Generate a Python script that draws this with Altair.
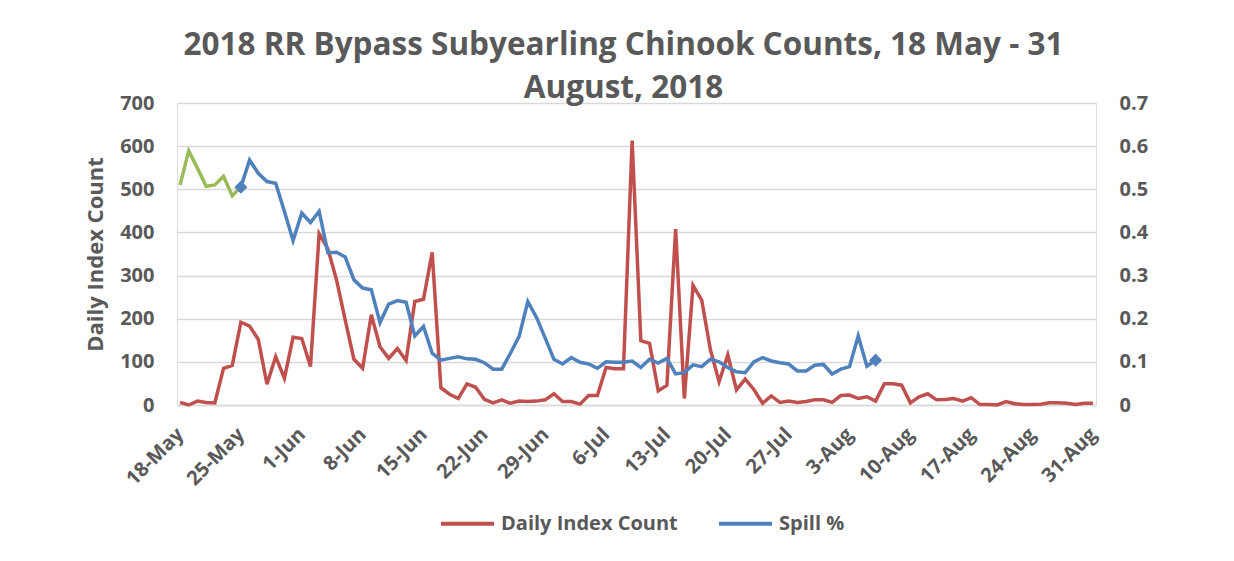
import altair as alt
import pandas as pd

# ---- data ----
tick_labels = ["18-May", "25-May", "1-Jun", "8-Jun", "15-Jun", "22-Jun", "29-Jun",
               "6-Jul", "13-Jul", "20-Jul", "27-Jul", "3-Aug", "10-Aug", "17-Aug",
               "24-Aug", "31-Aug"]

# Daily Index Count, one value per day from 18 May (day 0) to 31 Aug (day 105)
daily_count = [6, 0, 9, 6, 5, 85, 92, 192, 183, 152, 48, 112, 62, 157, 154, 89,
               397, 362, 290, 197, 106, 85, 209, 135, 108, 131, 103, 240, 245, 354,
               40, 25, 15, 49, 41, 13, 5, 12, 4, 9, 8, 9, 12, 26, 8, 8, 2, 22, 22,
               87, 84, 84, 613, 149, 143, 33, 46, 408, 15, 277, 243, 128, 54, 116,
               35, 60, 36, 4, 21, 6, 9, 6, 8, 12, 12, 6, 22, 23, 15, 19, 9, 49, 49,
               46, 5, 19, 26, 12, 13, 15, 9, 17, 1, 1, 0, 8, 3, 1, 1, 2, 5, 5, 4,
               1, 4, 4]

# Spill % (first part drawn in green, days 0-7)
spill_green = [0.51, 0.589, 0.549, 0.507, 0.51, 0.53, 0.485, 0.505]
# Spill % drawn in blue, days 7-80
blue_start_day = 7
spill_blue = [0.505, 0.568, 0.537, 0.518, 0.514, 0.449, 0.381, 0.445, 0.423, 0.449,
              0.353, 0.354, 0.343, 0.29, 0.271, 0.267, 0.191, 0.234, 0.242, 0.238,
              0.16, 0.182, 0.12, 0.104, 0.108, 0.112, 0.107, 0.106, 0.098, 0.083,
              0.083, 0.12, 0.159, 0.24, 0.203, 0.155, 0.106, 0.095, 0.11, 0.099,
              0.095, 0.085, 0.1, 0.099, 0.099, 0.102, 0.087, 0.106, 0.097, 0.108,
              0.072, 0.075, 0.093, 0.089, 0.106, 0.1, 0.087, 0.077, 0.075, 0.1,
              0.11, 0.102, 0.098, 0.095, 0.079, 0.079, 0.092, 0.094, 0.072, 0.083,
              0.089, 0.16, 0.09, 0.104]
marker_days = [7, 80]

series_names = ["Daily Index Count", "Spill %"]
series_colors = ["#C0504D", "#4F81BD"]
green_color = "#9BBB59"
text_color = "#595959"
grid_color = "#D9D9D9"
FONT = "Open Sans"

# ---- tables ----
count_df = pd.DataFrame({"day": list(range(len(daily_count))),
                         "value": daily_count,
                         "series": series_names[0]})
green_df = pd.DataFrame({"day": list(range(len(spill_green))),
                         "value": spill_green})
blue_df = pd.DataFrame({"day": list(range(blue_start_day, blue_start_day + len(spill_blue))),
                        "value": spill_blue,
                        "series": series_names[1]})
marker_df = blue_df[blue_df["day"].isin(marker_days)]

label_array = "[" + ",".join("'%s'" % t for t in tick_labels) + "]"

x_enc = alt.X(
    "day:Q",
    scale=alt.Scale(domain=[-0.35, 105.35], nice=False, zero=False),
    axis=alt.Axis(
        values=list(range(0, 106, 7)),
        labelExpr=label_array + "[round(datum.value / 7)]",
        labelAngle=315,
        labelAlign="right",
        labelBaseline="middle",
        labelFont=FONT, labelFontSize=20, labelFontWeight="bold",
        labelColor=text_color, labelPadding=26,
        labelOverlap=False,
        grid=False, ticks=False,
        domain=True, domainColor=grid_color, domainWidth=1.5,
        title=None,
    ),
)

color_enc = alt.Color(
    "series:N",
    scale=alt.Scale(domain=series_names, range=series_colors),
    legend=alt.Legend(
        orient="none", legendX=262, legendY=392, direction="horizontal",
        title=None, symbolType="stroke", symbolSize=2809, symbolStrokeWidth=4,
        labelFont=FONT, labelFontSize=20, labelFontWeight="bold",
        labelColor=text_color, labelOffset=5, columnPadding=33, labelLimit=0,
    ),
)

y_left = alt.Y(
    "value:Q",
    scale=alt.Scale(domain=[0, 700], nice=False),
    axis=alt.Axis(
        values=list(range(0, 701, 100)),
        title="Daily Index Count",
        titleFont=FONT, titleFontSize=22, titleFontWeight="bold",
        titleColor=text_color, titlePadding=12,
        labelFont=FONT, labelFontSize=20, labelFontWeight="bold",
        labelColor=text_color, labelPadding=23,
        grid=True, gridColor=grid_color, gridWidth=1.5,
        ticks=False, domain=False,
    ),
)

y_right = alt.Y(
    "value:Q",
    scale=alt.Scale(domain=[0, 0.7], nice=False),
    axis=alt.Axis(
        orient="right",
        values=[0, 0.1, 0.2, 0.3, 0.4, 0.5, 0.6, 0.7],
        format=".1~f",
        title=None,
        labelFont=FONT, labelFontSize=20, labelFontWeight="bold",
        labelColor=text_color, labelPadding=23,
        grid=False, ticks=False, domain=False,
    ),
)

count_line = alt.Chart(count_df).mark_line(strokeWidth=3.5).encode(
    x=x_enc, y=y_left, color=color_enc
)

green_line = alt.Chart(green_df).mark_line(strokeWidth=3.5, color=green_color).encode(
    x=x_enc, y=y_right
)
blue_line = alt.Chart(blue_df).mark_line(strokeWidth=3.5).encode(
    x=x_enc, y=y_right, color=color_enc
)
markers = alt.Chart(marker_df).mark_point(
    shape="diamond", size=170, filled=True, opacity=1, color=series_colors[1]
).encode(x=x_enc, y=y_right)

right = alt.layer(green_line, blue_line, markers)

chart = alt.layer(count_line, right).resolve_scale(y="independent").properties(
    width=919,
    height=302,
    autosize=alt.AutoSizeParams(type="none"),
    padding={"left": 169, "top": 95, "right": 120, "bottom": 140},
    title=alt.TitleParams(
        text=["2018 RR Bypass Subyearling Chinook Counts, 18 May - 31", "August, 2018"],
        font=FONT, fontSize=31.5, fontWeight="bold", color=text_color,
        lineHeight=43, anchor="middle", dx=-13, dy=15, offset=4,
    ),
).configure_view(stroke=None).configure(background="white")

chart.save("out.html", embed_options={"renderer": "svg", "actions": False})
